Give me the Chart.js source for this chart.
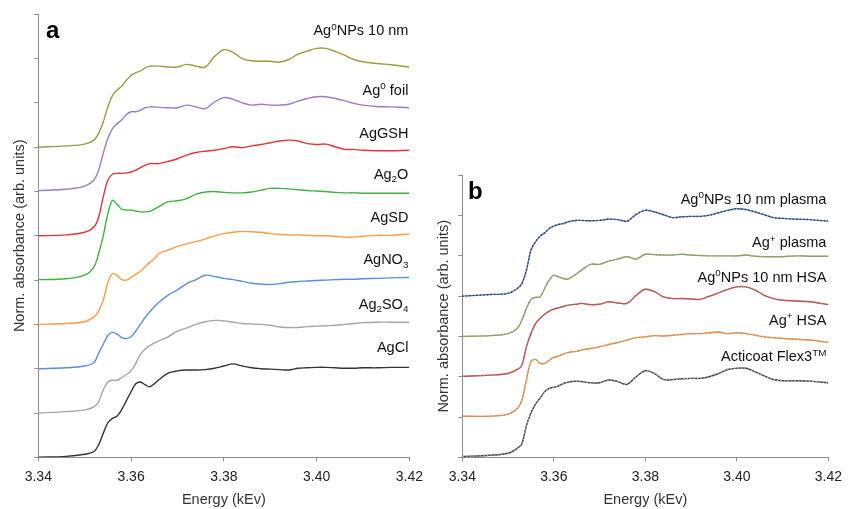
<!DOCTYPE html>
<html><head><meta charset="utf-8">
<script src="https://cdn.jsdelivr.net/npm/chart.js@4.4.0/dist/chart.umd.min.js"></script>
<style>
html,body{margin:0;padding:0;background:#fff;}
#wrap{position:relative;width:849px;height:509px;overflow:hidden;background:#fff;}
#ca{position:absolute;left:0;top:0;}
#cb{position:absolute;left:430px;top:0;}
</style></head><body>
<div id="wrap">
<canvas id="ca" width="430" height="509"></canvas>
<canvas id="cb" width="419" height="509"></canvas>
</div>
<script>
// ---------- data ----------
const energy = [3.340,3.346,3.350,3.352,3.353,3.354,3.355,3.356,3.357,3.358,3.359,3.360,3.361,3.362,3.363,3.364,3.365,3.366,3.368,3.370,3.372,3.374,3.376,3.378,3.380,3.382,3.384,3.386,3.388,3.390,3.392,3.394,3.396,3.398,3.400,3.402,3.404,3.406,3.408,3.410,3.413,3.416,3.420];
const energyTicks = [3.34,3.36,3.38,3.40,3.42];

// panel a (stacked, offset curves)
const namesA = ['Ag^{0}NPs 10 nm','Ag^{0} foil','AgGSH','Ag_{2}O','AgSD','AgNO_{3}','Ag_{2}SO_{4}','AgCl'];
const agNP10 = [7.00,7.03,7.07,7.16,7.31,7.57,7.91,8.17,8.29,8.38,8.51,8.62,8.68,8.72,8.79,8.83,8.83,8.83,8.81,8.81,8.87,8.83,8.81,9.05,9.20,9.14,9.00,8.95,8.94,8.94,8.92,8.98,9.10,9.17,9.23,9.23,9.16,9.08,8.98,8.93,8.89,8.86,8.81];
const agFoil = [6.02,6.05,6.12,6.26,6.48,6.86,7.20,7.42,7.53,7.62,7.74,7.80,7.80,7.83,7.89,7.91,7.91,7.90,7.89,7.89,7.95,7.91,7.87,8.02,8.12,8.08,8.00,7.95,7.97,7.95,7.95,7.97,8.04,8.10,8.14,8.14,8.10,8.05,7.99,7.95,7.92,7.91,7.89];
const agGSH = [5.00,5.02,5.08,5.20,5.42,5.88,6.26,6.39,6.41,6.41,6.42,6.44,6.48,6.54,6.59,6.63,6.63,6.63,6.68,6.74,6.82,6.88,6.91,6.93,6.97,7.01,6.99,7.03,7.06,7.10,7.14,7.16,7.14,7.08,7.06,7.07,7.01,6.95,6.95,6.93,6.92,6.92,6.93];
const ag2O = [4.01,4.03,4.11,4.30,4.60,5.00,5.50,5.80,5.71,5.60,5.58,5.58,5.56,5.54,5.54,5.55,5.60,5.66,5.77,5.79,5.84,5.94,5.99,6.00,5.98,5.97,5.97,5.99,6.03,6.07,6.07,6.06,6.04,6.02,6.01,6.00,5.98,5.97,5.97,5.96,5.96,5.96,5.96];
const agSD = [3.00,3.02,3.06,3.17,3.30,3.55,3.95,4.15,4.10,4.01,4.00,4.06,4.13,4.20,4.30,4.40,4.48,4.60,4.68,4.76,4.82,4.87,4.93,5.00,5.05,5.08,5.10,5.09,5.08,5.05,5.03,5.02,5.02,5.01,5.00,5.00,4.99,4.97,4.97,4.99,5.01,5.01,5.04];
const agNO3 = [2.00,2.02,2.06,2.14,2.35,2.55,2.75,2.82,2.78,2.70,2.68,2.72,2.85,3.00,3.15,3.28,3.40,3.50,3.66,3.78,3.92,4.01,4.11,4.08,4.04,4.01,3.97,3.93,3.91,3.90,3.92,3.95,3.97,3.98,3.99,4.00,4.01,4.02,4.02,4.03,4.04,4.05,4.06];
const ag2SO4 = [1.00,1.03,1.07,1.14,1.25,1.52,1.70,1.74,1.74,1.80,1.87,1.95,2.12,2.32,2.44,2.52,2.58,2.63,2.72,2.85,2.92,3.00,3.06,3.09,3.08,3.05,3.02,3.01,3.00,2.98,2.94,2.93,2.93,2.95,2.96,2.97,2.98,3.00,3.02,3.04,3.05,3.05,3.05];
const agCl = [0.00,0.02,0.07,0.13,0.28,0.54,0.78,0.88,0.93,1.08,1.28,1.48,1.66,1.70,1.64,1.59,1.66,1.75,1.90,1.95,1.97,1.97,1.98,2.01,2.06,2.11,2.06,2.02,2.00,1.99,1.98,1.97,2.01,2.02,2.03,2.03,2.02,2.01,2.01,2.02,2.02,2.03,2.03];
const labelYA = [9.64,8.29,7.32,6.41,5.42,4.47,3.47,2.49];

// panel b (samples with fits)
const namesB = ['Ag^{0}NPs 10 nm plasma','Ag^{+} plasma','Ag^{0}NPs 10 nm HSA','Ag^{+} HSA','Acticoat Flex3^{TM}'];
const npPlasma = [4.00,4.04,4.07,4.19,4.31,4.64,5.14,5.35,5.49,5.57,5.68,5.74,5.78,5.80,5.84,5.87,5.88,5.88,5.87,5.88,5.91,5.90,5.86,6.03,6.13,6.09,6.02,5.95,5.97,5.98,5.98,6.01,6.07,6.13,6.17,6.15,6.09,6.02,5.95,5.93,5.91,5.90,5.86];
const ionPlasma = [3.00,3.02,3.07,3.20,3.40,3.69,3.92,3.97,3.98,4.19,4.40,4.52,4.48,4.44,4.42,4.48,4.56,4.64,4.79,4.79,4.87,4.92,4.98,4.92,5.04,5.03,5.02,5.02,5.04,5.02,5.01,5.00,5.00,5.00,5.00,5.02,4.99,4.98,4.98,4.98,5.00,4.99,4.99];
const npHSA = [2.01,2.04,2.08,2.18,2.28,2.74,3.07,3.32,3.45,3.55,3.63,3.68,3.71,3.74,3.77,3.79,3.80,3.82,3.79,3.80,3.86,3.83,3.82,4.02,4.17,4.11,3.98,3.94,3.94,3.93,3.92,4.00,4.08,4.17,4.23,4.23,4.15,4.02,3.94,3.90,3.88,3.86,3.79];
const ionHSA = [1.02,1.02,1.07,1.21,1.41,1.92,2.37,2.43,2.33,2.33,2.41,2.48,2.51,2.56,2.60,2.62,2.63,2.66,2.70,2.74,2.80,2.85,2.91,2.97,2.99,3.02,3.01,3.03,3.05,3.07,3.07,3.09,3.11,3.07,3.09,3.07,3.03,2.99,2.97,2.95,2.93,2.91,2.85];
const acticoat = [0.02,0.05,0.10,0.22,0.33,0.78,1.10,1.32,1.47,1.63,1.71,1.74,1.77,1.83,1.86,1.88,1.89,1.88,1.85,1.85,1.92,1.88,1.81,2.00,2.15,2.08,1.93,1.93,1.95,1.96,1.96,2.00,2.08,2.18,2.21,2.21,2.12,2.02,1.93,1.90,1.90,1.89,1.85];
const labelYB = [6.42,5.34,4.49,3.42,2.51];

// ---------- rendering ----------
const FONT = '"Liberation Sans", Arial, Helvetica, sans-serif';
Chart.defaults.font.family = FONT;

const plain = s => s.replace(/[_^]\{([^}]*)\}/g,'$1');
const pts = arr => energy.map((e,i)=>({x:e,y:arr[i]}));

function drawRich(ctx, str, xRight, yMid, size, color){
  const parts=[]; const re=/([_^])\{([^}]*)\}/g; let last=0, m;
  while((m=re.exec(str))){ if(m.index>last) parts.push({t:str.slice(last,m.index),k:''}); parts.push({t:m[2],k:m[1]}); last=re.lastIndex; }
  if(last<str.length) parts.push({t:str.slice(last),k:''});
  const small = size*0.68;
  let w=0;
  parts.forEach(p=>{ ctx.font=(p.k?small:size)+'px '+FONT; p.w=ctx.measureText(p.t).width; w+=p.w; });
  let x=xRight-w;
  const base=yMid+size*0.358;
  ctx.fillStyle=color; ctx.textAlign='left'; ctx.textBaseline='alphabetic';
  parts.forEach(p=>{
    ctx.font=(p.k?small:size)+'px '+FONT;
    let y=base; if(p.k==='^') y=base-size*0.40; if(p.k==='_') y=base+size*0.22;
    ctx.fillText(p.t,x,y); x+=p.w;
  });
}

const labelPlugin = {
  id:'richLabels',
  afterDatasetsDraw(chart, args, o){
    const {ctx, chartArea, scales} = chart;
    ctx.save();
    o.names.forEach((n,i)=>drawRich(ctx, n, chartArea.right - o.inset, scales.y.getPixelForValue(o.ys[i]), 14.5, '#111'));
    ctx.font='bold 24px '+FONT; ctx.fillStyle='#000'; ctx.textAlign='left'; ctx.textBaseline='alphabetic';
    ctx.fillText(o.letter, o.lx, o.ly);
    ctx.restore();
  }
};

function scales(ymax, yTitlePad, yWidth){
  const axisCol = '#8c8c8c';
  return {
    x:{type:'linear', min:3.34, max:3.42,
      afterBuildTicks:s=>{ s.ticks = energyTicks.map(v=>({value:v})); },
      ticks:{callback:v=>Number(v).toFixed(2), color:'#222', font:{size:14}, padding:7, maxRotation:0, autoSkip:false},
      grid:{drawOnChartArea:false, drawTicks:true, tickLength:4, color:axisCol},
      border:{color:axisCol, width:1},
      title:{display:true, text:'Energy (kEv)', color:'#333', font:{size:14.5}, padding:{top:0,bottom:0}},
      afterFit:s=>{ s.height = 51.7; }
    },
    y:{type:'linear', min:0, max:ymax,
      ticks:{stepSize:1, display:false},
      grid:{drawOnChartArea:false, drawTicks:true, tickLength:4, color:axisCol},
      border:{color:axisCol, width:1},
      title:{display:true, text:'Norm. absorbance (arb. units)', color:'#333', font:{size:14.5}, padding:{top:yTitlePad,bottom:0}},
      afterFit:s=>{ s.width = yWidth; }
    }
  };
}

const line = (label, arr, color) => ({label, data:pts(arr), borderColor:color, borderWidth:1.4, pointRadius:0, tension:0.35, fill:false, order:1});
const fit = (label, arr, color) => ({label, data:pts(arr), borderColor:color, borderWidth:1.3, borderDash:[1.5,2], pointRadius:0, tension:0.35, fill:false, order:0});

const seriesA = [agNP10, agFoil, agGSH, ag2O, agSD, agNO3, ag2SO4, agCl];
const colorsA = ['#9c9a3c','#9a7bc4','#e0353a','#3db33d','#ff9a40','#5b8fd9','#a5a5a5','#333333'];

new Chart(document.getElementById('ca'), {
  type:'line',
  data:{datasets: seriesA.map((s,i)=>line(plain(namesA[i]), s, colorsA[i]))},
  options:{
    responsive:false, animation:false, events:[],
    layout:{padding:{top:14.3, right:19.7, left:0, bottom:0}},
    plugins:{legend:{display:false}, tooltip:{enabled:false},
      richLabels:{names:namesA, ys:labelYA, inset:1, letter:'a', lx:46, ly:38.3}},
    scales:scales(10, 11.3, 38.3)
  },
  plugins:[labelPlugin]
});

const seriesB = [npPlasma, ionPlasma, npHSA, ionHSA, acticoat];
const colorsB = ['#5383c8','#86a94c','#d43c3c','#ff9030','#3c3c3c'];
const fitColorsB = ['#333','#999','#888','#999','#aaa'];
const dsB = [];
seriesB.forEach((s,i)=>{ dsB.push(line(plain(namesB[i]), s, colorsB[i])); dsB.push(fit(plain(namesB[i])+' fit', s, fitColorsB[i])); });

new Chart(document.getElementById('cb'), {
  type:'line',
  data:{datasets: dsB},
  options:{
    responsive:false, animation:false, events:[],
    layout:{padding:{top:175.3, right:14.7, left:0, bottom:0}},
    plugins:{legend:{display:false}, tooltip:{enabled:false},
      richLabels:{names:namesB, ys:labelYB, inset:2, letter:'b', lx:38, ly:199.3}},
    scales:scales(7, 5, 32.3)
  },
  plugins:[labelPlugin]
});
</script>
</body></html>
